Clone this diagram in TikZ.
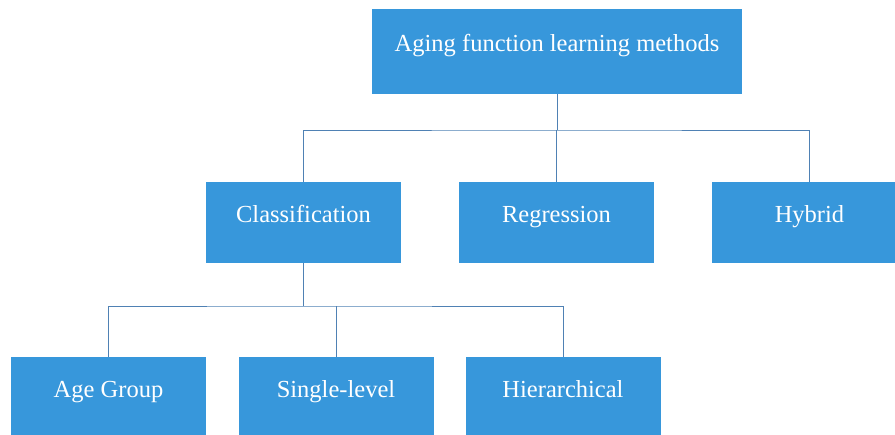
\documentclass[tikz,border=0pt]{standalone}
\usepackage{fontspec}
\setmainfont{Liberation Serif}
\definecolor{boxblue}{HTML}{3797DB}
\definecolor{linkblue}{HTML}{4F81B4}
\begin{document}
\begin{tikzpicture}[x=1pt,y=-1pt,
  box/.style={fill=boxblue, draw=none, text=white, inner sep=0pt,
    minimum width=195pt, minimum height=81pt,
    font=\fontsize{24.5}{29}\selectfont, text height=12pt, text depth=12pt},
  link/.style={draw=linkblue, line width=0.9pt}]
\useasboundingbox (0,0) rectangle (895,435);
\node[box, minimum width=370pt, minimum height=85pt] (root) at (557,51.5) {Aging function learning methods};
\node[box] (cls) at (303.5,222.5) {Classification};
\node[box] (reg) at (556.5,222.5) {Regression};
\node[box] (hyb) at (809.5,222.5) {Hybrid};
\node[box] (age) at (108.5,397.5) {Age Group};
\node[box] (sgl) at (336,397.5) {Single-level};
\node[box] (hie) at (563,397.5) {Hierarchical};
\coordinate (j1) at (557,130);
\coordinate (j2) at (303.5,306);
\draw[link] (root.south) -- (j1);
\draw[link] (cls.north) |- (j1) -| (hyb.north);
\draw[link] (reg.north) -- (reg.north |- j1);
\draw[link] (cls.south) -- (j2);
\draw[link] (age.north) |- (j2) -| (hie.north);
\draw[link] (sgl.north) -- (sgl.north |- j2);
\end{tikzpicture}
\end{document}
